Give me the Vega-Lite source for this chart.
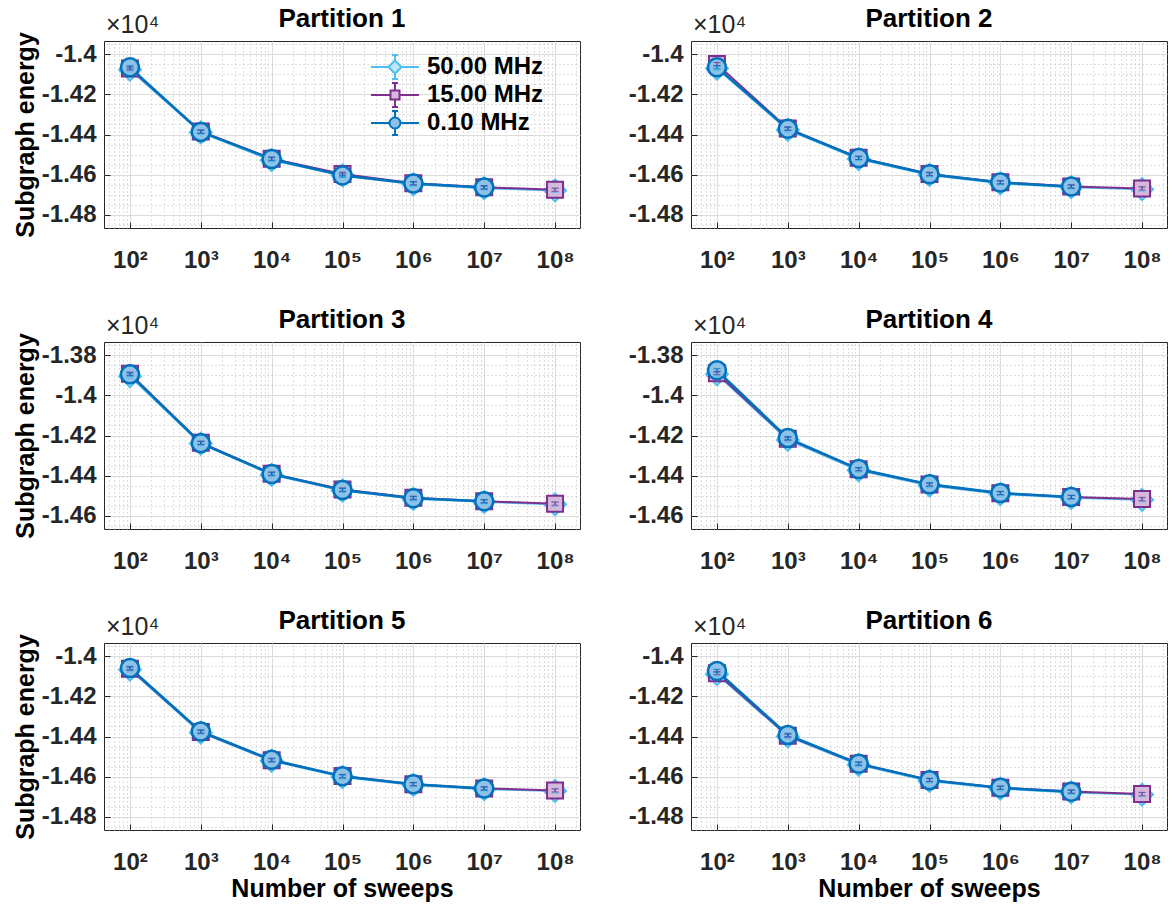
{
"$schema": "https://vega.github.io/schema/vega-lite/v6.json",
"padding": {"left": 12, "top": 5, "right": 0, "bottom": 0},
"background": "white",
"data": {"values": [
{"panel":1,"sweeps":100,"freq":"50.00 MHz","energy":-14078,"err":10},
{"panel":1,"sweeps":1000,"freq":"50.00 MHz","energy":-14390,"err":10},
{"panel":1,"sweeps":10000,"freq":"50.00 MHz","energy":-14528,"err":10},
{"panel":1,"sweeps":100000,"freq":"50.00 MHz","energy":-14603,"err":10},
{"panel":1,"sweeps":1000000,"freq":"50.00 MHz","energy":-14648,"err":10},
{"panel":1,"sweeps":10000000,"freq":"50.00 MHz","energy":-14667,"err":10},
{"panel":1,"sweeps":100000000,"freq":"50.00 MHz","energy":-14678,"err":10},
{"panel":1,"sweeps":100,"freq":"15.00 MHz","energy":-14072,"err":8},
{"panel":1,"sweeps":1000,"freq":"15.00 MHz","energy":-14385,"err":8},
{"panel":1,"sweeps":10000,"freq":"15.00 MHz","energy":-14520,"err":8},
{"panel":1,"sweeps":100000,"freq":"15.00 MHz","energy":-14596,"err":8},
{"panel":1,"sweeps":1000000,"freq":"15.00 MHz","energy":-14642,"err":8},
{"panel":1,"sweeps":10000000,"freq":"15.00 MHz","energy":-14662,"err":8},
{"panel":1,"sweeps":100000000,"freq":"15.00 MHz","energy":-14675,"err":8},
{"panel":1,"sweeps":100,"freq":"0.10 MHz","energy":-14066,"err":8},
{"panel":1,"sweeps":1000,"freq":"0.10 MHz","energy":-14387,"err":8},
{"panel":1,"sweeps":10000,"freq":"0.10 MHz","energy":-14522,"err":8},
{"panel":1,"sweeps":100000,"freq":"0.10 MHz","energy":-14604,"err":8},
{"panel":1,"sweeps":1000000,"freq":"0.10 MHz","energy":-14644,"err":8},
{"panel":1,"sweeps":10000000,"freq":"0.10 MHz","energy":-14664,"err":8},
{"panel":2,"sweeps":100,"freq":"50.00 MHz","energy":-14072,"err":10},
{"panel":2,"sweeps":1000,"freq":"50.00 MHz","energy":-14377,"err":10},
{"panel":2,"sweeps":10000,"freq":"50.00 MHz","energy":-14522,"err":10},
{"panel":2,"sweeps":100000,"freq":"50.00 MHz","energy":-14601,"err":10},
{"panel":2,"sweeps":1000000,"freq":"50.00 MHz","energy":-14643,"err":10},
{"panel":2,"sweeps":10000000,"freq":"50.00 MHz","energy":-14662,"err":10},
{"panel":2,"sweeps":100000000,"freq":"50.00 MHz","energy":-14672,"err":10},
{"panel":2,"sweeps":100,"freq":"15.00 MHz","energy":-14050,"err":8},
{"panel":2,"sweeps":1000,"freq":"15.00 MHz","energy":-14370,"err":8},
{"panel":2,"sweeps":10000,"freq":"15.00 MHz","energy":-14516,"err":8},
{"panel":2,"sweeps":100000,"freq":"15.00 MHz","energy":-14596,"err":8},
{"panel":2,"sweeps":1000000,"freq":"15.00 MHz","energy":-14637,"err":8},
{"panel":2,"sweeps":10000000,"freq":"15.00 MHz","energy":-14658,"err":8},
{"panel":2,"sweeps":100000000,"freq":"15.00 MHz","energy":-14668,"err":8},
{"panel":2,"sweeps":100,"freq":"0.10 MHz","energy":-14066,"err":8},
{"panel":2,"sweeps":1000,"freq":"0.10 MHz","energy":-14372,"err":8},
{"panel":2,"sweeps":10000,"freq":"0.10 MHz","energy":-14517,"err":8},
{"panel":2,"sweeps":100000,"freq":"0.10 MHz","energy":-14598,"err":8},
{"panel":2,"sweeps":1000000,"freq":"0.10 MHz","energy":-14639,"err":8},
{"panel":2,"sweeps":10000000,"freq":"0.10 MHz","energy":-14659,"err":8},
{"panel":3,"sweeps":100,"freq":"50.00 MHz","energy":-13905,"err":10},
{"panel":3,"sweeps":1000,"freq":"50.00 MHz","energy":-14240,"err":10},
{"panel":3,"sweeps":10000,"freq":"50.00 MHz","energy":-14396,"err":10},
{"panel":3,"sweeps":100000,"freq":"50.00 MHz","energy":-14474,"err":10},
{"panel":3,"sweeps":1000000,"freq":"50.00 MHz","energy":-14515,"err":10},
{"panel":3,"sweeps":10000000,"freq":"50.00 MHz","energy":-14530,"err":10},
{"panel":3,"sweeps":100000000,"freq":"50.00 MHz","energy":-14542,"err":10},
{"panel":3,"sweeps":100,"freq":"15.00 MHz","energy":-13893,"err":8},
{"panel":3,"sweeps":1000,"freq":"15.00 MHz","energy":-14236,"err":8},
{"panel":3,"sweeps":10000,"freq":"15.00 MHz","energy":-14390,"err":8},
{"panel":3,"sweeps":100000,"freq":"15.00 MHz","energy":-14469,"err":8},
{"panel":3,"sweeps":1000000,"freq":"15.00 MHz","energy":-14510,"err":8},
{"panel":3,"sweeps":10000000,"freq":"15.00 MHz","energy":-14527,"err":8},
{"panel":3,"sweeps":100000000,"freq":"15.00 MHz","energy":-14539,"err":8},
{"panel":3,"sweeps":100,"freq":"0.10 MHz","energy":-13896,"err":8},
{"panel":3,"sweeps":1000,"freq":"0.10 MHz","energy":-14238,"err":8},
{"panel":3,"sweeps":10000,"freq":"0.10 MHz","energy":-14391,"err":8},
{"panel":3,"sweeps":100000,"freq":"0.10 MHz","energy":-14471,"err":8},
{"panel":3,"sweeps":1000000,"freq":"0.10 MHz","energy":-14512,"err":8},
{"panel":3,"sweeps":10000000,"freq":"0.10 MHz","energy":-14527,"err":8},
{"panel":4,"sweeps":100,"freq":"50.00 MHz","energy":-13895,"err":10},
{"panel":4,"sweeps":1000,"freq":"50.00 MHz","energy":-14222,"err":10},
{"panel":4,"sweeps":10000,"freq":"50.00 MHz","energy":-14373,"err":10},
{"panel":4,"sweeps":100000,"freq":"50.00 MHz","energy":-14449,"err":10},
{"panel":4,"sweeps":1000000,"freq":"50.00 MHz","energy":-14491,"err":10},
{"panel":4,"sweeps":10000000,"freq":"50.00 MHz","energy":-14510,"err":10},
{"panel":4,"sweeps":100000000,"freq":"50.00 MHz","energy":-14520,"err":10},
{"panel":4,"sweeps":100,"freq":"15.00 MHz","energy":-13890,"err":8},
{"panel":4,"sweeps":1000,"freq":"15.00 MHz","energy":-14216,"err":8},
{"panel":4,"sweeps":10000,"freq":"15.00 MHz","energy":-14368,"err":8},
{"panel":4,"sweeps":100000,"freq":"15.00 MHz","energy":-14444,"err":8},
{"panel":4,"sweeps":1000000,"freq":"15.00 MHz","energy":-14487,"err":8},
{"panel":4,"sweeps":10000000,"freq":"15.00 MHz","energy":-14506,"err":8},
{"panel":4,"sweeps":100000000,"freq":"15.00 MHz","energy":-14516,"err":8},
{"panel":4,"sweeps":100,"freq":"0.10 MHz","energy":-13876,"err":8},
{"panel":4,"sweeps":1000,"freq":"0.10 MHz","energy":-14213,"err":8},
{"panel":4,"sweeps":10000,"freq":"0.10 MHz","energy":-14367,"err":8},
{"panel":4,"sweeps":100000,"freq":"0.10 MHz","energy":-14443,"err":8},
{"panel":4,"sweeps":1000000,"freq":"0.10 MHz","energy":-14486,"err":8},
{"panel":4,"sweeps":10000000,"freq":"0.10 MHz","energy":-14506,"err":8},
{"panel":5,"sweeps":100,"freq":"50.00 MHz","energy":-14068,"err":10},
{"panel":5,"sweeps":1000,"freq":"50.00 MHz","energy":-14381,"err":10},
{"panel":5,"sweeps":10000,"freq":"50.00 MHz","energy":-14521,"err":10},
{"panel":5,"sweeps":100000,"freq":"50.00 MHz","energy":-14602,"err":10},
{"panel":5,"sweeps":1000000,"freq":"50.00 MHz","energy":-14641,"err":10},
{"panel":5,"sweeps":10000000,"freq":"50.00 MHz","energy":-14662,"err":10},
{"panel":5,"sweeps":100000000,"freq":"50.00 MHz","energy":-14671,"err":10},
{"panel":5,"sweeps":100,"freq":"15.00 MHz","energy":-14063,"err":8},
{"panel":5,"sweeps":1000,"freq":"15.00 MHz","energy":-14377,"err":8},
{"panel":5,"sweeps":10000,"freq":"15.00 MHz","energy":-14518,"err":8},
{"panel":5,"sweeps":100000,"freq":"15.00 MHz","energy":-14597,"err":8},
{"panel":5,"sweeps":1000000,"freq":"15.00 MHz","energy":-14637,"err":8},
{"panel":5,"sweeps":10000000,"freq":"15.00 MHz","energy":-14658,"err":8},
{"panel":5,"sweeps":100000000,"freq":"15.00 MHz","energy":-14668,"err":8},
{"panel":5,"sweeps":100,"freq":"0.10 MHz","energy":-14059,"err":8},
{"panel":5,"sweeps":1000,"freq":"0.10 MHz","energy":-14375,"err":8},
{"panel":5,"sweeps":10000,"freq":"0.10 MHz","energy":-14516,"err":8},
{"panel":5,"sweeps":100000,"freq":"0.10 MHz","energy":-14598,"err":8},
{"panel":5,"sweeps":1000000,"freq":"0.10 MHz","energy":-14637,"err":8},
{"panel":5,"sweeps":10000000,"freq":"0.10 MHz","energy":-14659,"err":8},
{"panel":6,"sweeps":100,"freq":"50.00 MHz","energy":-14090,"err":10},
{"panel":6,"sweeps":1000,"freq":"50.00 MHz","energy":-14400,"err":10},
{"panel":6,"sweeps":10000,"freq":"50.00 MHz","energy":-14541,"err":10},
{"panel":6,"sweeps":100000,"freq":"50.00 MHz","energy":-14621,"err":10},
{"panel":6,"sweeps":1000000,"freq":"50.00 MHz","energy":-14659,"err":10},
{"panel":6,"sweeps":10000000,"freq":"50.00 MHz","energy":-14678,"err":10},
{"panel":6,"sweeps":100000000,"freq":"50.00 MHz","energy":-14689,"err":10},
{"panel":6,"sweeps":100,"freq":"15.00 MHz","energy":-14085,"err":8},
{"panel":6,"sweeps":1000,"freq":"15.00 MHz","energy":-14396,"err":8},
{"panel":6,"sweeps":10000,"freq":"15.00 MHz","energy":-14536,"err":8},
{"panel":6,"sweeps":100000,"freq":"15.00 MHz","energy":-14616,"err":8},
{"panel":6,"sweeps":1000000,"freq":"15.00 MHz","energy":-14655,"err":8},
{"panel":6,"sweeps":10000000,"freq":"15.00 MHz","energy":-14674,"err":8},
{"panel":6,"sweeps":100000000,"freq":"15.00 MHz","energy":-14686,"err":8},
{"panel":6,"sweeps":100,"freq":"0.10 MHz","energy":-14074,"err":8},
{"panel":6,"sweeps":1000,"freq":"0.10 MHz","energy":-14392,"err":8},
{"panel":6,"sweeps":10000,"freq":"0.10 MHz","energy":-14535,"err":8},
{"panel":6,"sweeps":100000,"freq":"0.10 MHz","energy":-14617,"err":8},
{"panel":6,"sweeps":1000000,"freq":"0.10 MHz","energy":-14655,"err":8},
{"panel":6,"sweeps":10000000,"freq":"0.10 MHz","energy":-14675,"err":8}
]},
"columns": 2,
"spacing": {"row": 114, "column": 111},
"bounds": "flush",
"concat": [
{
"width": 476, "height": 187,
"title": {"text": "Partition 1"},
"transform": [{"filter": "datum.panel == 1"}],
"layer": [
{"transform": [{"filter": "datum.freq == '50.00 MHz'"}], "mark": {"type": "line", "stroke": "#4DBEEE", "strokeWidth": 2},
 "encoding": {
  "x": {"field": "sweeps", "type": "quantitative", "scale": {"type": "log", "domain": [43, 225000000], "nice": false}, "axis": {"orient": "top", "values": [50,60,70,80,90,200,300,400,500,600,700,800,900,2000,3000,4000,5000,6000,7000,8000,9000,20000,30000,40000,50000,60000,70000,80000,90000,200000,300000,400000,500000,600000,700000,800000,900000,2000000,3000000,4000000,5000000,6000000,7000000,8000000,9000000,20000000,30000000,40000000,50000000,60000000,70000000,80000000,90000000,200000000], "grid": true, "gridDash": [1, 3], "gridColor": "#bdbdbd", "labels": false, "ticks": false, "domain": false, "title": null}},
  "y": {"field": "energy", "type": "quantitative", "scale": {"domain": [-14865, -13935], "nice": false, "zero": false}, "axis": {"orient": "right", "values": [-13950,-14050,-14100,-14150,-14250,-14300,-14350,-14450,-14500,-14550,-14650,-14700,-14750,-14850], "grid": true, "gridDash": [1, 3], "gridColor": "#bdbdbd", "labels": false, "ticks": false, "domain": false, "title": null}}}},
{"transform": [{"filter": "datum.freq == '50.00 MHz'"}], "mark": {"type": "point", "shape": "diamond", "size": 480, "fill": "#BFE8F9", "stroke": "#4DBEEE", "strokeWidth": 2, "opacity": 1},
 "encoding": {
  "x": {"field": "sweeps", "type": "quantitative", "axis": {"values": [100,1000,10000,100000,1000000,10000000,100000000], "labelExpr": "'10' + ['⁰','¹','²','³','⁴','⁵','⁶','⁷','⁸'][round(log(datum.value)/LN10)]", "grid": true, "title": null}},
  "y": {"field": "energy", "type": "quantitative", "axis": {"values": [-14000,-14200,-14400,-14600,-14800], "labelExpr": "replace(format(datum.value/10000, '.3~g'), '−', '-')", "grid": true, "title": "Subgraph energy"}}}},
{"transform": [{"filter": "datum.freq == '15.00 MHz'"}], "mark": {"type": "line", "stroke": "#7E2F8E", "strokeWidth": 2},
 "encoding": {"x": {"field": "sweeps", "type": "quantitative", "axis": null}, "y": {"field": "energy", "type": "quantitative", "axis": null}}},
{"transform": [{"filter": "datum.freq == '15.00 MHz'"}], "mark": {"type": "point", "shape": "square", "size": 256, "fill": "#D5B9DB", "stroke": "#7E2F8E", "strokeWidth": 2, "opacity": 1},
 "encoding": {"x": {"field": "sweeps", "type": "quantitative", "axis": null}, "y": {"field": "energy", "type": "quantitative", "axis": null}}},
{"transform": [{"filter": "datum.freq == '0.10 MHz'"}], "mark": {"type": "line", "stroke": "#0072BD", "strokeWidth": 2.5},
 "encoding": {"x": {"field": "sweeps", "type": "quantitative", "axis": null}, "y": {"field": "energy", "type": "quantitative", "axis": null}}},
{"transform": [{"filter": "datum.freq == '0.10 MHz'"}], "mark": {"type": "point", "shape": "circle", "size": 324, "fill": "#8EC2E6", "stroke": "#0072BD", "strokeWidth": 2.5, "opacity": 1},
 "encoding": {"x": {"field": "sweeps", "type": "quantitative", "axis": null}, "y": {"field": "energy", "type": "quantitative", "axis": null}}},
{"mark": {"type": "errorbar", "ticks": {"size": 7}, "thickness": 1.2},
 "encoding": {"x": {"field": "sweeps", "type": "quantitative", "axis": null}, "y": {"field": "energy", "type": "quantitative", "axis": null}, "yError": {"field": "err"},
  "color": {"field": "freq", "type": "nominal", "scale": {"domain": ["0.10 MHz", "15.00 MHz", "50.00 MHz"], "range": ["#0072BD", "#7E2F8E", "#4DBEEE"]}, "legend": null}}},
{"data": {"values": [{}]}, "mark": {"type": "text", "text": "×10⁴", "align": "left", "baseline": "alphabetic", "dx": 2, "dy": -8, "fontSize": 25, "font": "Liberation Sans", "color": "#262626"},
 "encoding": {"x": {"datum": 43, "type": "quantitative", "axis": null}, "y": {"datum": -13935, "type": "quantitative", "axis": null}}},
{"transform": [{"filter": "datum.sweeps == 100"}], "mark": {"type": "point", "strokeWidth": 2, "opacity": 0, "filled": true},
 "encoding": {
  "x": {"field": "sweeps", "type": "quantitative", "axis": null}, "y": {"field": "energy", "type": "quantitative", "axis": null},
  "stroke": {"field": "freq", "type": "nominal", "scale": {"domain": ["50.00 MHz", "15.00 MHz", "0.10 MHz"], "range": ["#4DBEEE", "#7E2F8E", "#0072BD"]},
   "legend": {"orient": "none", "legendX": 279, "legendY": 14, "title": null, "rowPadding": -7, "encode": {"symbols": {"update": {"fill": {"signal": "datum.value == '50.00 MHz' ? '#BFE8F9' : datum.value == '15.00 MHz' ? '#D5B9DB' : '#8EC2E6'"}}}}}},
  "fill": {"field": "freq", "type": "nominal", "scale": {"domain": ["50.00 MHz", "15.00 MHz", "0.10 MHz"], "range": ["#BFE8F9", "#D5B9DB", "#8EC2E6"]},
   "legend": {"orient": "none", "legendX": 279, "legendY": 14, "title": null, "rowPadding": -7, "encode": {"symbols": {"update": {"fill": {"signal": "datum.value == '50.00 MHz' ? '#BFE8F9' : datum.value == '15.00 MHz' ? '#D5B9DB' : '#8EC2E6'"}}}}}},
  "shape": {"field": "freq", "type": "nominal", "scale": {"domain": ["50.00 MHz", "15.00 MHz", "0.10 MHz"], "range": [
   "M-2.18,0H-0.59M0.59,0H2.18M0,-1.09V-0.59M0,0.59V1.09M-0.27,-1.09H0.27M-0.27,1.09H0.27M0,-0.59L0.59,0L0,0.59L-0.59,0Z",
   "M-2.18,0H-0.41M0.41,0H2.18M0,-1.09V-0.41M0,0.41V1.09M-0.27,-1.09H0.27M-0.27,1.09H0.27M-0.41,-0.41H0.41V0.41H-0.41Z",
   "M-2.18,0H-0.5M0.5,0H2.18M0,-1.09V-0.5M0,0.5V1.09M-0.27,-1.09H0.27M-0.27,1.09H0.27M-0.5,0A0.5,0.5,0,1,0,0.5,0A0.5,0.5,0,1,0,-0.5,0Z"]},
   "legend": {"orient": "none", "legendX": 279, "legendY": 14, "title": null, "rowPadding": -7, "encode": {"symbols": {"update": {"fill": {"signal": "datum.value == '50.00 MHz' ? '#BFE8F9' : datum.value == '15.00 MHz' ? '#D5B9DB' : '#8EC2E6'"}}}}}}}}
],
"resolve": {"axis": {"x": "independent", "y": "independent"}}
},
{
"width": 476, "height": 187,
"title": {"text": "Partition 2"},
"transform": [{"filter": "datum.panel == 2"}],
"layer": [
{"transform": [{"filter": "datum.freq == '50.00 MHz'"}], "mark": {"type": "line", "stroke": "#4DBEEE", "strokeWidth": 2},
 "encoding": {
  "x": {"field": "sweeps", "type": "quantitative", "scale": {"type": "log", "domain": [43, 225000000], "nice": false}, "axis": {"orient": "top", "values": [50,60,70,80,90,200,300,400,500,600,700,800,900,2000,3000,4000,5000,6000,7000,8000,9000,20000,30000,40000,50000,60000,70000,80000,90000,200000,300000,400000,500000,600000,700000,800000,900000,2000000,3000000,4000000,5000000,6000000,7000000,8000000,9000000,20000000,30000000,40000000,50000000,60000000,70000000,80000000,90000000,200000000], "grid": true, "gridDash": [1, 3], "gridColor": "#bdbdbd", "labels": false, "ticks": false, "domain": false, "title": null}},
  "y": {"field": "energy", "type": "quantitative", "scale": {"domain": [-14865, -13935], "nice": false, "zero": false}, "axis": {"orient": "right", "values": [-13950,-14050,-14100,-14150,-14250,-14300,-14350,-14450,-14500,-14550,-14650,-14700,-14750,-14850], "grid": true, "gridDash": [1, 3], "gridColor": "#bdbdbd", "labels": false, "ticks": false, "domain": false, "title": null}}}},
{"transform": [{"filter": "datum.freq == '50.00 MHz'"}], "mark": {"type": "point", "shape": "diamond", "size": 480, "fill": "#BFE8F9", "stroke": "#4DBEEE", "strokeWidth": 2, "opacity": 1},
 "encoding": {
  "x": {"field": "sweeps", "type": "quantitative", "axis": {"values": [100,1000,10000,100000,1000000,10000000,100000000], "labelExpr": "'10' + ['⁰','¹','²','³','⁴','⁵','⁶','⁷','⁸'][round(log(datum.value)/LN10)]", "grid": true, "title": null}},
  "y": {"field": "energy", "type": "quantitative", "axis": {"values": [-14000,-14200,-14400,-14600,-14800], "labelExpr": "replace(format(datum.value/10000, '.3~g'), '−', '-')", "grid": true, "title": null}}}},
{"transform": [{"filter": "datum.freq == '15.00 MHz'"}], "mark": {"type": "line", "stroke": "#7E2F8E", "strokeWidth": 2},
 "encoding": {"x": {"field": "sweeps", "type": "quantitative", "axis": null}, "y": {"field": "energy", "type": "quantitative", "axis": null}}},
{"transform": [{"filter": "datum.freq == '15.00 MHz'"}], "mark": {"type": "point", "shape": "square", "size": 256, "fill": "#D5B9DB", "stroke": "#7E2F8E", "strokeWidth": 2, "opacity": 1},
 "encoding": {"x": {"field": "sweeps", "type": "quantitative", "axis": null}, "y": {"field": "energy", "type": "quantitative", "axis": null}}},
{"transform": [{"filter": "datum.freq == '0.10 MHz'"}], "mark": {"type": "line", "stroke": "#0072BD", "strokeWidth": 2.5},
 "encoding": {"x": {"field": "sweeps", "type": "quantitative", "axis": null}, "y": {"field": "energy", "type": "quantitative", "axis": null}}},
{"transform": [{"filter": "datum.freq == '0.10 MHz'"}], "mark": {"type": "point", "shape": "circle", "size": 324, "fill": "#8EC2E6", "stroke": "#0072BD", "strokeWidth": 2.5, "opacity": 1},
 "encoding": {"x": {"field": "sweeps", "type": "quantitative", "axis": null}, "y": {"field": "energy", "type": "quantitative", "axis": null}}},
{"mark": {"type": "errorbar", "ticks": {"size": 7}, "thickness": 1.2},
 "encoding": {"x": {"field": "sweeps", "type": "quantitative", "axis": null}, "y": {"field": "energy", "type": "quantitative", "axis": null}, "yError": {"field": "err"},
  "color": {"field": "freq", "type": "nominal", "scale": {"domain": ["0.10 MHz", "15.00 MHz", "50.00 MHz"], "range": ["#0072BD", "#7E2F8E", "#4DBEEE"]}, "legend": null}}},
{"data": {"values": [{}]}, "mark": {"type": "text", "text": "×10⁴", "align": "left", "baseline": "alphabetic", "dx": 2, "dy": -8, "fontSize": 25, "font": "Liberation Sans", "color": "#262626"},
 "encoding": {"x": {"datum": 43, "type": "quantitative", "axis": null}, "y": {"datum": -13935, "type": "quantitative", "axis": null}}}
],
"resolve": {"axis": {"x": "independent", "y": "independent"}}
},
{
"width": 476, "height": 187,
"title": {"text": "Partition 3"},
"transform": [{"filter": "datum.panel == 3"}],
"layer": [
{"transform": [{"filter": "datum.freq == '50.00 MHz'"}], "mark": {"type": "line", "stroke": "#4DBEEE", "strokeWidth": 2},
 "encoding": {
  "x": {"field": "sweeps", "type": "quantitative", "scale": {"type": "log", "domain": [43, 225000000], "nice": false}, "axis": {"orient": "top", "values": [50,60,70,80,90,200,300,400,500,600,700,800,900,2000,3000,4000,5000,6000,7000,8000,9000,20000,30000,40000,50000,60000,70000,80000,90000,200000,300000,400000,500000,600000,700000,800000,900000,2000000,3000000,4000000,5000000,6000000,7000000,8000000,9000000,20000000,30000000,40000000,50000000,60000000,70000000,80000000,90000000,200000000], "grid": true, "gridDash": [1, 3], "gridColor": "#bdbdbd", "labels": false, "ticks": false, "domain": false, "title": null}},
  "y": {"field": "energy", "type": "quantitative", "scale": {"domain": [-14665, -13735], "nice": false, "zero": false}, "axis": {"orient": "right", "values": [-13750,-13850,-13900,-13950,-14050,-14100,-14150,-14250,-14300,-14350,-14450,-14500,-14550,-14650], "grid": true, "gridDash": [1, 3], "gridColor": "#bdbdbd", "labels": false, "ticks": false, "domain": false, "title": null}}}},
{"transform": [{"filter": "datum.freq == '50.00 MHz'"}], "mark": {"type": "point", "shape": "diamond", "size": 480, "fill": "#BFE8F9", "stroke": "#4DBEEE", "strokeWidth": 2, "opacity": 1},
 "encoding": {
  "x": {"field": "sweeps", "type": "quantitative", "axis": {"values": [100,1000,10000,100000,1000000,10000000,100000000], "labelExpr": "'10' + ['⁰','¹','²','³','⁴','⁵','⁶','⁷','⁸'][round(log(datum.value)/LN10)]", "grid": true, "title": null}},
  "y": {"field": "energy", "type": "quantitative", "axis": {"values": [-13800,-14000,-14200,-14400,-14600], "labelExpr": "replace(format(datum.value/10000, '.3~g'), '−', '-')", "grid": true, "title": "Subgraph energy"}}}},
{"transform": [{"filter": "datum.freq == '15.00 MHz'"}], "mark": {"type": "line", "stroke": "#7E2F8E", "strokeWidth": 2},
 "encoding": {"x": {"field": "sweeps", "type": "quantitative", "axis": null}, "y": {"field": "energy", "type": "quantitative", "axis": null}}},
{"transform": [{"filter": "datum.freq == '15.00 MHz'"}], "mark": {"type": "point", "shape": "square", "size": 256, "fill": "#D5B9DB", "stroke": "#7E2F8E", "strokeWidth": 2, "opacity": 1},
 "encoding": {"x": {"field": "sweeps", "type": "quantitative", "axis": null}, "y": {"field": "energy", "type": "quantitative", "axis": null}}},
{"transform": [{"filter": "datum.freq == '0.10 MHz'"}], "mark": {"type": "line", "stroke": "#0072BD", "strokeWidth": 2.5},
 "encoding": {"x": {"field": "sweeps", "type": "quantitative", "axis": null}, "y": {"field": "energy", "type": "quantitative", "axis": null}}},
{"transform": [{"filter": "datum.freq == '0.10 MHz'"}], "mark": {"type": "point", "shape": "circle", "size": 324, "fill": "#8EC2E6", "stroke": "#0072BD", "strokeWidth": 2.5, "opacity": 1},
 "encoding": {"x": {"field": "sweeps", "type": "quantitative", "axis": null}, "y": {"field": "energy", "type": "quantitative", "axis": null}}},
{"mark": {"type": "errorbar", "ticks": {"size": 7}, "thickness": 1.2},
 "encoding": {"x": {"field": "sweeps", "type": "quantitative", "axis": null}, "y": {"field": "energy", "type": "quantitative", "axis": null}, "yError": {"field": "err"},
  "color": {"field": "freq", "type": "nominal", "scale": {"domain": ["0.10 MHz", "15.00 MHz", "50.00 MHz"], "range": ["#0072BD", "#7E2F8E", "#4DBEEE"]}, "legend": null}}},
{"data": {"values": [{}]}, "mark": {"type": "text", "text": "×10⁴", "align": "left", "baseline": "alphabetic", "dx": 2, "dy": -8, "fontSize": 25, "font": "Liberation Sans", "color": "#262626"},
 "encoding": {"x": {"datum": 43, "type": "quantitative", "axis": null}, "y": {"datum": -13735, "type": "quantitative", "axis": null}}}
],
"resolve": {"axis": {"x": "independent", "y": "independent"}}
},
{
"width": 476, "height": 187,
"title": {"text": "Partition 4"},
"transform": [{"filter": "datum.panel == 4"}],
"layer": [
{"transform": [{"filter": "datum.freq == '50.00 MHz'"}], "mark": {"type": "line", "stroke": "#4DBEEE", "strokeWidth": 2},
 "encoding": {
  "x": {"field": "sweeps", "type": "quantitative", "scale": {"type": "log", "domain": [43, 225000000], "nice": false}, "axis": {"orient": "top", "values": [50,60,70,80,90,200,300,400,500,600,700,800,900,2000,3000,4000,5000,6000,7000,8000,9000,20000,30000,40000,50000,60000,70000,80000,90000,200000,300000,400000,500000,600000,700000,800000,900000,2000000,3000000,4000000,5000000,6000000,7000000,8000000,9000000,20000000,30000000,40000000,50000000,60000000,70000000,80000000,90000000,200000000], "grid": true, "gridDash": [1, 3], "gridColor": "#bdbdbd", "labels": false, "ticks": false, "domain": false, "title": null}},
  "y": {"field": "energy", "type": "quantitative", "scale": {"domain": [-14665, -13735], "nice": false, "zero": false}, "axis": {"orient": "right", "values": [-13750,-13850,-13900,-13950,-14050,-14100,-14150,-14250,-14300,-14350,-14450,-14500,-14550,-14650], "grid": true, "gridDash": [1, 3], "gridColor": "#bdbdbd", "labels": false, "ticks": false, "domain": false, "title": null}}}},
{"transform": [{"filter": "datum.freq == '50.00 MHz'"}], "mark": {"type": "point", "shape": "diamond", "size": 480, "fill": "#BFE8F9", "stroke": "#4DBEEE", "strokeWidth": 2, "opacity": 1},
 "encoding": {
  "x": {"field": "sweeps", "type": "quantitative", "axis": {"values": [100,1000,10000,100000,1000000,10000000,100000000], "labelExpr": "'10' + ['⁰','¹','²','³','⁴','⁵','⁶','⁷','⁸'][round(log(datum.value)/LN10)]", "grid": true, "title": null}},
  "y": {"field": "energy", "type": "quantitative", "axis": {"values": [-13800,-14000,-14200,-14400,-14600], "labelExpr": "replace(format(datum.value/10000, '.3~g'), '−', '-')", "grid": true, "title": null}}}},
{"transform": [{"filter": "datum.freq == '15.00 MHz'"}], "mark": {"type": "line", "stroke": "#7E2F8E", "strokeWidth": 2},
 "encoding": {"x": {"field": "sweeps", "type": "quantitative", "axis": null}, "y": {"field": "energy", "type": "quantitative", "axis": null}}},
{"transform": [{"filter": "datum.freq == '15.00 MHz'"}], "mark": {"type": "point", "shape": "square", "size": 256, "fill": "#D5B9DB", "stroke": "#7E2F8E", "strokeWidth": 2, "opacity": 1},
 "encoding": {"x": {"field": "sweeps", "type": "quantitative", "axis": null}, "y": {"field": "energy", "type": "quantitative", "axis": null}}},
{"transform": [{"filter": "datum.freq == '0.10 MHz'"}], "mark": {"type": "line", "stroke": "#0072BD", "strokeWidth": 2.5},
 "encoding": {"x": {"field": "sweeps", "type": "quantitative", "axis": null}, "y": {"field": "energy", "type": "quantitative", "axis": null}}},
{"transform": [{"filter": "datum.freq == '0.10 MHz'"}], "mark": {"type": "point", "shape": "circle", "size": 324, "fill": "#8EC2E6", "stroke": "#0072BD", "strokeWidth": 2.5, "opacity": 1},
 "encoding": {"x": {"field": "sweeps", "type": "quantitative", "axis": null}, "y": {"field": "energy", "type": "quantitative", "axis": null}}},
{"mark": {"type": "errorbar", "ticks": {"size": 7}, "thickness": 1.2},
 "encoding": {"x": {"field": "sweeps", "type": "quantitative", "axis": null}, "y": {"field": "energy", "type": "quantitative", "axis": null}, "yError": {"field": "err"},
  "color": {"field": "freq", "type": "nominal", "scale": {"domain": ["0.10 MHz", "15.00 MHz", "50.00 MHz"], "range": ["#0072BD", "#7E2F8E", "#4DBEEE"]}, "legend": null}}},
{"data": {"values": [{}]}, "mark": {"type": "text", "text": "×10⁴", "align": "left", "baseline": "alphabetic", "dx": 2, "dy": -8, "fontSize": 25, "font": "Liberation Sans", "color": "#262626"},
 "encoding": {"x": {"datum": 43, "type": "quantitative", "axis": null}, "y": {"datum": -13735, "type": "quantitative", "axis": null}}}
],
"resolve": {"axis": {"x": "independent", "y": "independent"}}
},
{
"width": 476, "height": 187,
"title": {"text": "Partition 5"},
"transform": [{"filter": "datum.panel == 5"}],
"layer": [
{"transform": [{"filter": "datum.freq == '50.00 MHz'"}], "mark": {"type": "line", "stroke": "#4DBEEE", "strokeWidth": 2},
 "encoding": {
  "x": {"field": "sweeps", "type": "quantitative", "scale": {"type": "log", "domain": [43, 225000000], "nice": false}, "axis": {"orient": "top", "values": [50,60,70,80,90,200,300,400,500,600,700,800,900,2000,3000,4000,5000,6000,7000,8000,9000,20000,30000,40000,50000,60000,70000,80000,90000,200000,300000,400000,500000,600000,700000,800000,900000,2000000,3000000,4000000,5000000,6000000,7000000,8000000,9000000,20000000,30000000,40000000,50000000,60000000,70000000,80000000,90000000,200000000], "grid": true, "gridDash": [1, 3], "gridColor": "#bdbdbd", "labels": false, "ticks": false, "domain": false, "title": null}},
  "y": {"field": "energy", "type": "quantitative", "scale": {"domain": [-14865, -13935], "nice": false, "zero": false}, "axis": {"orient": "right", "values": [-13950,-14050,-14100,-14150,-14250,-14300,-14350,-14450,-14500,-14550,-14650,-14700,-14750,-14850], "grid": true, "gridDash": [1, 3], "gridColor": "#bdbdbd", "labels": false, "ticks": false, "domain": false, "title": null}}}},
{"transform": [{"filter": "datum.freq == '50.00 MHz'"}], "mark": {"type": "point", "shape": "diamond", "size": 480, "fill": "#BFE8F9", "stroke": "#4DBEEE", "strokeWidth": 2, "opacity": 1},
 "encoding": {
  "x": {"field": "sweeps", "type": "quantitative", "axis": {"values": [100,1000,10000,100000,1000000,10000000,100000000], "labelExpr": "'10' + ['⁰','¹','²','³','⁴','⁵','⁶','⁷','⁸'][round(log(datum.value)/LN10)]", "grid": true, "title": "Number of sweeps"}},
  "y": {"field": "energy", "type": "quantitative", "axis": {"values": [-14000,-14200,-14400,-14600,-14800], "labelExpr": "replace(format(datum.value/10000, '.3~g'), '−', '-')", "grid": true, "title": "Subgraph energy"}}}},
{"transform": [{"filter": "datum.freq == '15.00 MHz'"}], "mark": {"type": "line", "stroke": "#7E2F8E", "strokeWidth": 2},
 "encoding": {"x": {"field": "sweeps", "type": "quantitative", "axis": null}, "y": {"field": "energy", "type": "quantitative", "axis": null}}},
{"transform": [{"filter": "datum.freq == '15.00 MHz'"}], "mark": {"type": "point", "shape": "square", "size": 256, "fill": "#D5B9DB", "stroke": "#7E2F8E", "strokeWidth": 2, "opacity": 1},
 "encoding": {"x": {"field": "sweeps", "type": "quantitative", "axis": null}, "y": {"field": "energy", "type": "quantitative", "axis": null}}},
{"transform": [{"filter": "datum.freq == '0.10 MHz'"}], "mark": {"type": "line", "stroke": "#0072BD", "strokeWidth": 2.5},
 "encoding": {"x": {"field": "sweeps", "type": "quantitative", "axis": null}, "y": {"field": "energy", "type": "quantitative", "axis": null}}},
{"transform": [{"filter": "datum.freq == '0.10 MHz'"}], "mark": {"type": "point", "shape": "circle", "size": 324, "fill": "#8EC2E6", "stroke": "#0072BD", "strokeWidth": 2.5, "opacity": 1},
 "encoding": {"x": {"field": "sweeps", "type": "quantitative", "axis": null}, "y": {"field": "energy", "type": "quantitative", "axis": null}}},
{"mark": {"type": "errorbar", "ticks": {"size": 7}, "thickness": 1.2},
 "encoding": {"x": {"field": "sweeps", "type": "quantitative", "axis": null}, "y": {"field": "energy", "type": "quantitative", "axis": null}, "yError": {"field": "err"},
  "color": {"field": "freq", "type": "nominal", "scale": {"domain": ["0.10 MHz", "15.00 MHz", "50.00 MHz"], "range": ["#0072BD", "#7E2F8E", "#4DBEEE"]}, "legend": null}}},
{"data": {"values": [{}]}, "mark": {"type": "text", "text": "×10⁴", "align": "left", "baseline": "alphabetic", "dx": 2, "dy": -8, "fontSize": 25, "font": "Liberation Sans", "color": "#262626"},
 "encoding": {"x": {"datum": 43, "type": "quantitative", "axis": null}, "y": {"datum": -13935, "type": "quantitative", "axis": null}}}
],
"resolve": {"axis": {"x": "independent", "y": "independent"}}
},
{
"width": 476, "height": 187,
"title": {"text": "Partition 6"},
"transform": [{"filter": "datum.panel == 6"}],
"layer": [
{"transform": [{"filter": "datum.freq == '50.00 MHz'"}], "mark": {"type": "line", "stroke": "#4DBEEE", "strokeWidth": 2},
 "encoding": {
  "x": {"field": "sweeps", "type": "quantitative", "scale": {"type": "log", "domain": [43, 225000000], "nice": false}, "axis": {"orient": "top", "values": [50,60,70,80,90,200,300,400,500,600,700,800,900,2000,3000,4000,5000,6000,7000,8000,9000,20000,30000,40000,50000,60000,70000,80000,90000,200000,300000,400000,500000,600000,700000,800000,900000,2000000,3000000,4000000,5000000,6000000,7000000,8000000,9000000,20000000,30000000,40000000,50000000,60000000,70000000,80000000,90000000,200000000], "grid": true, "gridDash": [1, 3], "gridColor": "#bdbdbd", "labels": false, "ticks": false, "domain": false, "title": null}},
  "y": {"field": "energy", "type": "quantitative", "scale": {"domain": [-14865, -13935], "nice": false, "zero": false}, "axis": {"orient": "right", "values": [-13950,-14050,-14100,-14150,-14250,-14300,-14350,-14450,-14500,-14550,-14650,-14700,-14750,-14850], "grid": true, "gridDash": [1, 3], "gridColor": "#bdbdbd", "labels": false, "ticks": false, "domain": false, "title": null}}}},
{"transform": [{"filter": "datum.freq == '50.00 MHz'"}], "mark": {"type": "point", "shape": "diamond", "size": 480, "fill": "#BFE8F9", "stroke": "#4DBEEE", "strokeWidth": 2, "opacity": 1},
 "encoding": {
  "x": {"field": "sweeps", "type": "quantitative", "axis": {"values": [100,1000,10000,100000,1000000,10000000,100000000], "labelExpr": "'10' + ['⁰','¹','²','³','⁴','⁵','⁶','⁷','⁸'][round(log(datum.value)/LN10)]", "grid": true, "title": "Number of sweeps"}},
  "y": {"field": "energy", "type": "quantitative", "axis": {"values": [-14000,-14200,-14400,-14600,-14800], "labelExpr": "replace(format(datum.value/10000, '.3~g'), '−', '-')", "grid": true, "title": null}}}},
{"transform": [{"filter": "datum.freq == '15.00 MHz'"}], "mark": {"type": "line", "stroke": "#7E2F8E", "strokeWidth": 2},
 "encoding": {"x": {"field": "sweeps", "type": "quantitative", "axis": null}, "y": {"field": "energy", "type": "quantitative", "axis": null}}},
{"transform": [{"filter": "datum.freq == '15.00 MHz'"}], "mark": {"type": "point", "shape": "square", "size": 256, "fill": "#D5B9DB", "stroke": "#7E2F8E", "strokeWidth": 2, "opacity": 1},
 "encoding": {"x": {"field": "sweeps", "type": "quantitative", "axis": null}, "y": {"field": "energy", "type": "quantitative", "axis": null}}},
{"transform": [{"filter": "datum.freq == '0.10 MHz'"}], "mark": {"type": "line", "stroke": "#0072BD", "strokeWidth": 2.5},
 "encoding": {"x": {"field": "sweeps", "type": "quantitative", "axis": null}, "y": {"field": "energy", "type": "quantitative", "axis": null}}},
{"transform": [{"filter": "datum.freq == '0.10 MHz'"}], "mark": {"type": "point", "shape": "circle", "size": 324, "fill": "#8EC2E6", "stroke": "#0072BD", "strokeWidth": 2.5, "opacity": 1},
 "encoding": {"x": {"field": "sweeps", "type": "quantitative", "axis": null}, "y": {"field": "energy", "type": "quantitative", "axis": null}}},
{"mark": {"type": "errorbar", "ticks": {"size": 7}, "thickness": 1.2},
 "encoding": {"x": {"field": "sweeps", "type": "quantitative", "axis": null}, "y": {"field": "energy", "type": "quantitative", "axis": null}, "yError": {"field": "err"},
  "color": {"field": "freq", "type": "nominal", "scale": {"domain": ["0.10 MHz", "15.00 MHz", "50.00 MHz"], "range": ["#0072BD", "#7E2F8E", "#4DBEEE"]}, "legend": null}}},
{"data": {"values": [{}]}, "mark": {"type": "text", "text": "×10⁴", "align": "left", "baseline": "alphabetic", "dx": 2, "dy": -8, "fontSize": 25, "font": "Liberation Sans", "color": "#262626"},
 "encoding": {"x": {"datum": 43, "type": "quantitative", "axis": null}, "y": {"datum": -13935, "type": "quantitative", "axis": null}}}
],
"resolve": {"axis": {"x": "independent", "y": "independent"}}
}
],
"config": {
 "font": "Liberation Sans",
 "view": {"stroke": "#262626", "strokeWidth": 1},
 "axis": {"labelFont": "Liberation Sans", "labelFontWeight": "bold", "labelFontSize": 24, "labelColor": "#262626", "titleFont": "Liberation Sans", "titleFontWeight": "bold", "titleFontSize": 25, "titleColor": "#000000", "gridColor": "#dcdcdc", "gridWidth": 1, "domain": false, "tickColor": "#262626", "tickSize": -6, "tickWidth": 1},
 "axisX": {"labelPadding": 26, "titlePadding": 2},
 "axisY": {"labelPadding": 14, "titlePadding": 3},
 "title": {"font": "Liberation Sans", "fontSize": 26, "fontWeight": "bold", "color": "#000000", "offset": -19, "frame": "group"},
 "legend": {"symbolSize": 484, "symbolStrokeWidth": 2, "labelFont": "Liberation Sans", "labelFontWeight": "bold", "labelFontSize": 24, "labelColor": "#000000", "labelOffset": 20, "rowPadding": -7, "padding": 0}
}
}
